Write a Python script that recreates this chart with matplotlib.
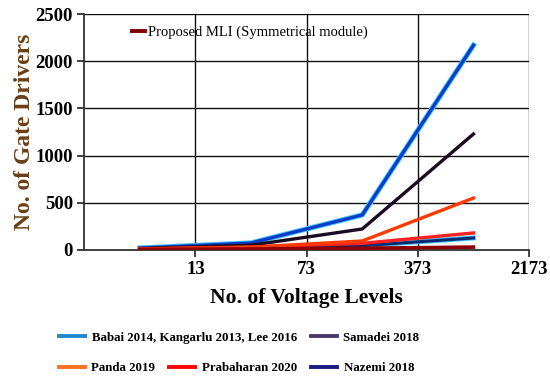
import numpy as np
import matplotlib.pyplot as plt
from matplotlib.lines import Line2D

plt.rcParams['font.family'] = ['Liberation Serif', 'DejaVu Serif']

# x categories (tick labels sit on category boundaries)
level_ticks = ['13', '73', '373', '2173']

# gate drivers per topology, one value per category
babai = [20, 74, 371, 2170]
samadei = [15, 50, 222, 1229]
panda = [10, 30, 95, 550]
prabaharan = [12, 30, 70, 180]
nazemi = [9, 22, 45, 127]
proposed = [6, 10, 18, 30]

x = np.arange(len(level_ticks)) + 0.5

fig = plt.figure(figsize=(5.5, 3.81), dpi=100)
ax = fig.add_axes([0.153, 0.344, 0.809, 0.619])

# halo under the blue-ish lines, as in the original
ax.plot(x, babai, color='#40c8ff', lw=3.8, zorder=2)
ax.plot(x, babai, color='#0a3cc8', lw=2.4, zorder=3)
ax.plot(x, samadei, color='#1a0a22', lw=2.4, zorder=3)
ax.plot(x, nazemi, color='#40c8ff', lw=3.6, zorder=2)
ax.plot(x, nazemi, color='#0a2a70', lw=2.2, zorder=3)
ax.plot(x, prabaharan, color='#ff2020', lw=2.4, zorder=3)
ax.plot(x, panda, color='#ff3a00', lw=2.4, zorder=4)
ax.plot(x, proposed, color='#8b0000', lw=2.6, zorder=4)

ax.set_xlim(0, 4)
ax.set_ylim(0, 2500)
ax.set_xticks(np.arange(1, 5))
ax.set_xticklabels(level_ticks)
ax.set_yticks(np.arange(0, 2501, 500))
ax.grid(True, color='#111111', lw=1.0)
ax.set_axisbelow(True)
for s in ['top', 'right']:
    ax.spines[s].set_visible(False)
for s in ['left', 'bottom']:
    ax.spines[s].set_color('#333333')
    ax.spines[s].set_linewidth(1.3)
ax.tick_params(axis='both', length=5, width=1.3, color='#333333',
               labelsize=13.5, pad=3)
for lab in ax.get_xticklabels() + ax.get_yticklabels():
    lab.set_fontweight('bold')

ax.set_xlabel('No. of Voltage Levels', fontsize=15.5, fontweight='bold', labelpad=7)
ax.set_ylabel('No. of Gate Drivers', fontsize=17, fontweight='bold',
              color='#6b3f14')
ax.yaxis.set_label_coords(-0.11, 0.5)

h_prop = Line2D([], [], color='#800000', lw=2.8)
ax.legend([h_prop], ['Proposed MLI (Symmetrical module)'], loc='upper left',
          bbox_to_anchor=(0.095, 0.975), frameon=False, fontsize=10.5,
          handlelength=0.9, handletextpad=0.15, borderaxespad=0)

row1 = [Line2D([], [], color='#1e88d0', lw=2.8), Line2D([], [], color='#4a3a6a', lw=2.8)]
row2 = [Line2D([], [], color='#ff7020', lw=2.8), Line2D([], [], color='#ff0000', lw=2.8),
        Line2D([], [], color='#1a1a80', lw=2.8)]
kw = dict(frameon=False, handlelength=2.0, handletextpad=0.5, columnspacing=1.1,
          loc='center', prop={'weight': 'bold', 'size': 9.3})
fig.legend(row1, ['Babai 2014, Kangarlu 2013, Lee 2016', 'Samadei 2018'],
           ncol=2, bbox_to_anchor=(0.435, 0.113), **kw)
fig.legend(row2, ['Panda 2019', 'Prabaharan 2020', 'Nazemi 2018'],
           ncol=3, bbox_to_anchor=(0.43, 0.034), **kw)

fig.savefig('out.png', dpi=100)
